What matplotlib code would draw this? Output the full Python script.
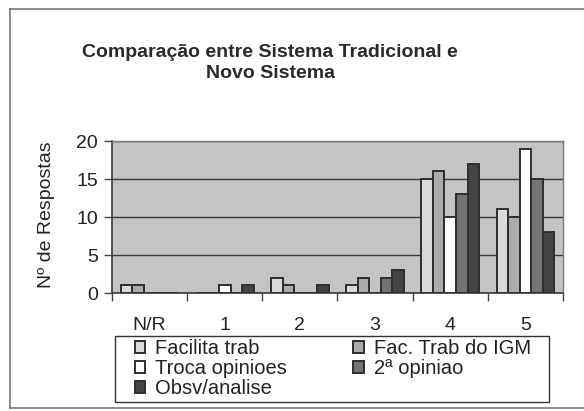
import numpy as np
import matplotlib
matplotlib.use("Agg")
import matplotlib.pyplot as plt
from matplotlib.lines import Line2D
from matplotlib.patches import Rectangle

plt.rcParams['font.family'] = ['Liberation Sans', 'DejaVu Sans']

categories = ["N/R", "1", "2", "3", "4", "5"]
series_names = ["Facilita trab", "Fac. Trab do IGM", "Troca opinioes", "2ª opiniao", "Obsv/analise"]
facilita = [1, 0, 2, 1, 15, 11]
fac_igm = [1, 0, 1, 2, 16, 10]
troca = [0, 1, 0, 0, 10, 19]
segunda = [0, 0, 0, 2, 13, 15]
obsv = [0, 1, 1, 3, 17, 8]
series = [facilita, fac_igm, troca, segunda, obsv]
colors = ["#d9d9d9", "#ababab", "#ffffff", "#747474", "#444444"]

W, H = 584, 411
fig = plt.figure(figsize=(W / 100, H / 100), dpi=100)
fig.patch.set_facecolor("white")

def fx(px):
	return px / W

def fy(py):
	return 1 - py / H

# outer chart frame (left, top, bottom)
for xs, ys in [((10, 10), (9, 408)), ((10, W), (9, 9)), ((10, W), (408, 408))]:
	fig.add_artist(Line2D([fx(x) for x in xs], [fy(y) for y in ys], color="#777777", lw=1.2))

ax = fig.add_axes([fx(112), fy(293), fx(563) - fx(112), fy(141) - fy(293)])
ax.set_facecolor("#c4c4c4")

x = np.arange(len(categories))
bw = 1 / 6.5
handles = []
for i, (name, vals, c) in enumerate(zip(series_names, series, colors)):
	b = ax.bar(x - 2.5 * bw + (i + 0.5) * bw, vals, width=bw, color=c,
		edgecolor="#2e2e2e", linewidth=1.4, label=name, zorder=3)
	handles.append(b)

ax.set_xlim(-0.5, len(categories) - 0.5)
ax.set_ylim(0, 20)
ax.set_yticks([0, 5, 10, 15, 20])
ax.yaxis.grid(True, color="#3a3a3a", lw=1.0, zorder=1)
ax.set_axisbelow(True)

# Excel style: tick marks between categories, labels at centers
ax.set_xticks(np.arange(-0.5, len(categories) + 0.5, 1))
ax.set_xticklabels([])
ax.set_xticks(x, minor=True)
ax.set_xticklabels(categories, minor=True)
ax.tick_params(axis="x", which="major", length=6, width=1, color="#444444", direction="out")
ax.tick_params(axis="x", which="minor", length=0, pad=17, labelsize=14, labelcolor="#222222")
ax.tick_params(axis="y", length=6, width=1, color="#444444", labelsize=14, labelcolor="#222222", pad=4)

for s in ["left", "bottom"]:
	ax.spines[s].set_color("#3a3a3a")
	ax.spines[s].set_linewidth(1.2)
for s in ["top", "right"]:
	ax.spines[s].set_color("#7a7a7a")
	ax.spines[s].set_linewidth(1.0)

fig.text(fx(270), fy(63), "Comparação entre Sistema Tradicional e\nNovo Sistema",
	ha="center", va="center", fontsize=14, fontweight="bold", color="#2a2a2a", linespacing=1.3)
fig.text(fx(47), fy(215), "Nº de Respostas", rotation=90, ha="center", va="center",
	fontsize=14, color="#222222")

# legend box drawn by hand, entries placed inside it
fig.add_artist(Rectangle((fx(115), fy(402)), fx(549) - fx(115), fy(336) - fy(402),
	transform=fig.transFigure, facecolor="white", edgecolor="#333333", lw=1.0, zorder=2))
order = [0, 2, 4, 1, 3]
leg = fig.legend([handles[i] for i in order], [series_names[i] for i in order],
	ncol=2, loc="upper left", bbox_to_anchor=(fx(135), fy(339)),
	borderaxespad=0, borderpad=0, fontsize=14.5, frameon=False,
	handlelength=0.5, handleheight=0.5, handletextpad=0.5, labelspacing=0.05,
	columnspacing=3.3)
leg.set_zorder(3)
for t in leg.get_texts():
	t.set_color("#222222")

fig.savefig("out.png", dpi=100)
